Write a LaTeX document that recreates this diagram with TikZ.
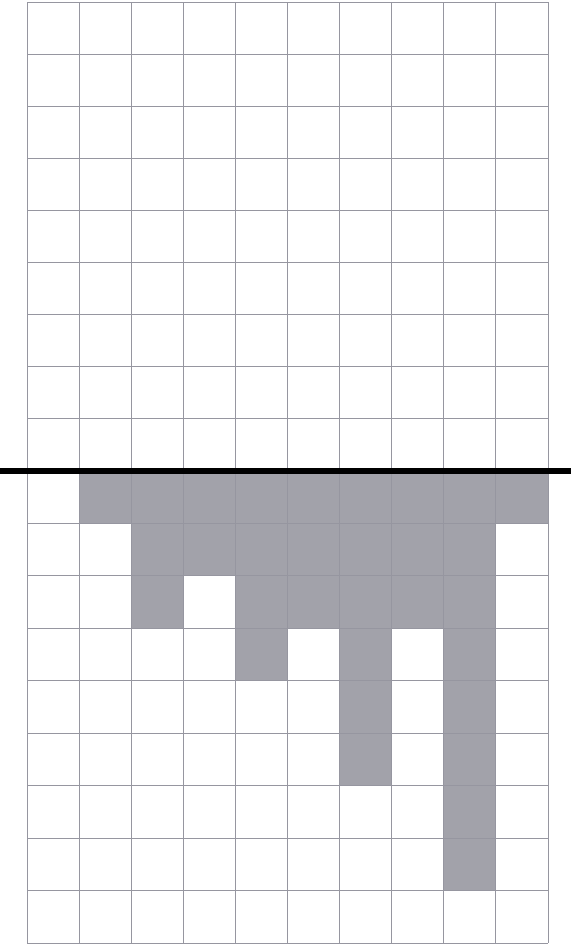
\documentclass[tikz,border=0pt]{standalone}
\definecolor{gridline}{RGB}{150,150,160}
\definecolor{cellgray}{RGB}{162,162,170}
\begin{document}
\begin{tikzpicture}[x=1pt,y=-1pt,
  gridstyle/.style={draw=gridline, line width=0.9pt},
  cellstyle/.style={fill=cellgray},
  barstyle/.style={draw=black, line width=6pt}]
\useasboundingbox (0,0) rectangle (571,948);
\fill[white] (0,0) rectangle (571,948);
% shaded cells below the bar (column / row, counted from the bar)
\foreach \c/\r in {1/0,2/0,3/0,4/0,5/0,6/0,7/0,8/0,9/0,
                   2/1,3/1,4/1,5/1,6/1,7/1,8/1,
                   2/2,4/2,5/2,6/2,7/2,8/2,
                   4/3,6/3,8/3,
                   6/4,8/4,
                   6/5,8/5,
                   8/6,8/7}
  \fill[cellstyle] ({27+52.1*\c},{471+52.44*\r}) rectangle ++(52.1,52.44);
% grid
\foreach \i in {0,...,10}
  \draw[gridstyle] ({27+52.1*\i},2) -- ({27+52.1*\i},943);
\foreach \j in {0,...,8}
  \draw[gridstyle] (27,{2+52.11*\j}) -- (548,{2+52.11*\j});
\foreach \j in {1,...,9}
  \draw[gridstyle] (27,{471+52.44*\j}) -- (548,{471+52.44*\j});
% thick bar
\draw[barstyle] (0,471) -- (571,471);
\end{tikzpicture}
\end{document}
